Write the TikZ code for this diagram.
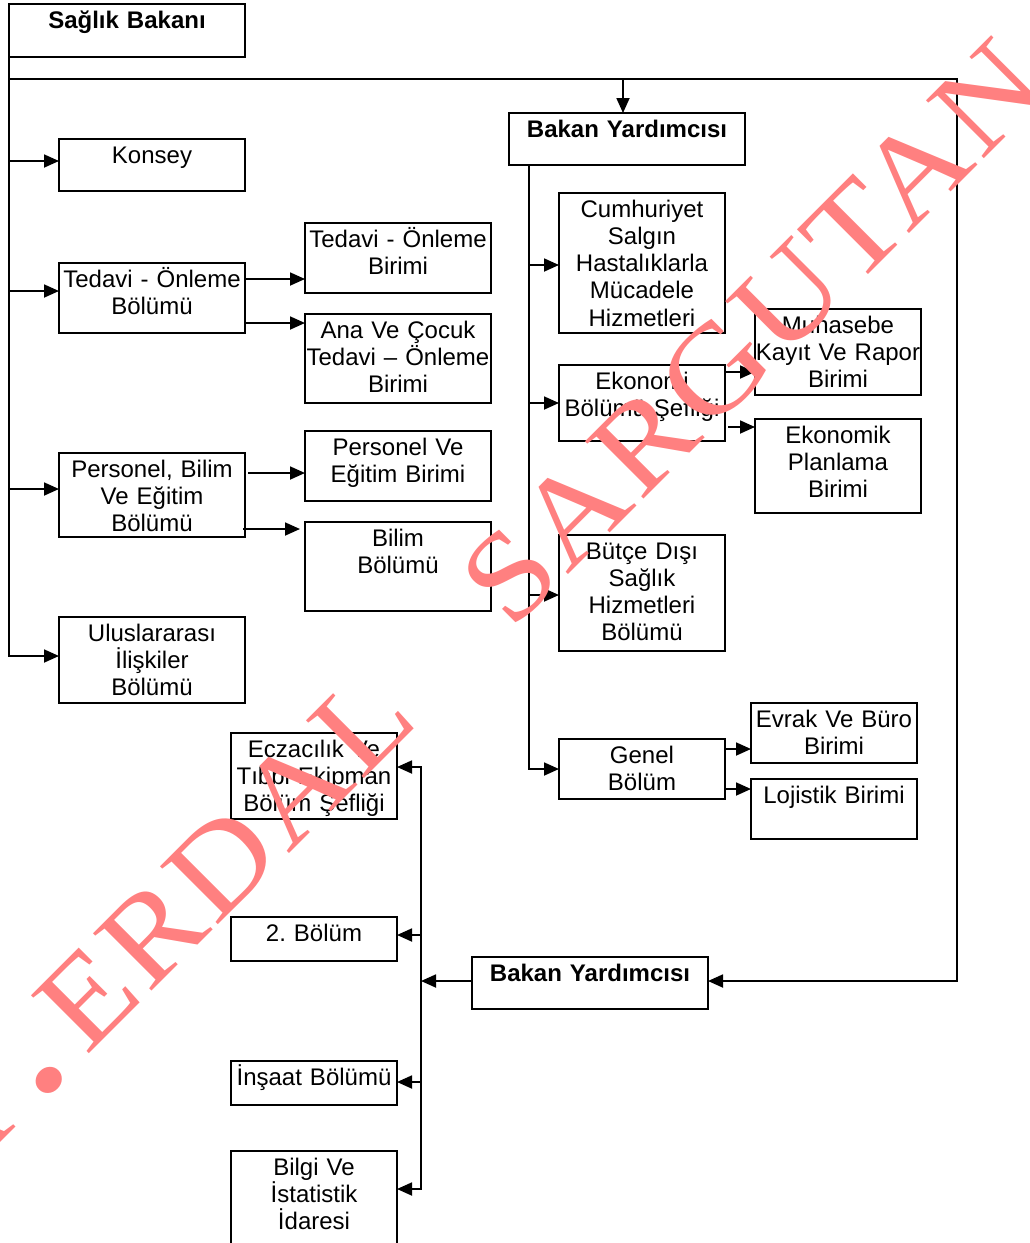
\documentclass[tikz,border=0pt]{standalone}
\usepackage{fontspec}
\setmainfont{Liberation Sans}
\newfontfamily\wmfont[LetterSpace=3, FakeStretch=1.1]{Liberation Serif}
\usetikzlibrary{arrows.meta,positioning}
\definecolor{wmark}{RGB}{255,128,128}
\newcommand{\boxfont}{\fontsize{24}{27.3}\selectfont}
\tikzset{
  unitbox/.style={draw, line width=1.8pt, inner sep=0pt, outer sep=0pt, minimum width=166pt, minimum height=#1},
  widebox/.style={unitbox=#1, minimum width=186pt},
  headbox/.style={unitbox=#1, minimum width=236pt},
  boxtext/.style={anchor=north, inner sep=4.8pt, text width=240pt, align=center, text height=19pt, font=\boxfont},
  headtext/.style={boxtext, font=\boxfont\bfseries},
  arrow/.style={-{Triangle[length=15pt,width=13pt]}, line width=1.8pt},
  watermark/.style={anchor=base west, rotate=45, inner sep=0pt, text=wmark, font=\wmfont\fontsize{125}{125}\selectfont}
}

\begin{document}
\begin{tikzpicture}[x=1pt, y=-1pt]
  \useasboundingbox (0,0) rectangle (1029,1243);

  \node[headbox=53pt, label={[headtext]north:{Sağlık Bakanı}}] (bakan) at (127,30.5) {};
  \node[widebox=52pt, label={[boxtext]north:{Konsey}}] (konsey) at (152,165) {};
  \node[widebox=70pt, label={[boxtext]north:{Tedavi - Önleme\\Bölümü}}] (tob) at (152,298) {};
  \node[widebox=70pt, label={[boxtext]north:{Tedavi - Önleme\\Birimi}}] (tobirim) at (398,258) {};
  \node[widebox=89pt, below=21pt of tobirim, label={[boxtext]north:{Ana Ve Çocuk\\Tedavi – Önleme\\Birimi}}] (anacocuk) {};
  \node[widebox=84pt, label={[boxtext]north:{Personel, Bilim\\Ve Eğitim\\Bölümü}}] (pbe) at (152,495) {};
  \node[widebox=70pt, label={[boxtext]north:{Personel Ve\\Eğitim Birimi}}] (pebirim) at (398,466) {};
  \node[widebox=89pt, below=21pt of pebirim, label={[boxtext]north:{Bilim\\Bölümü}}] (bilim) {};
  \node[widebox=86pt, label={[boxtext]north:{Uluslararası\\İlişkiler\\Bölümü}}] (ulus) at (152,660) {};

  \node[headbox=52pt, label={[headtext]north:{Bakan Yardımcısı}}] (yard1) at (627,139) {};
  \node[unitbox=140pt, label={[boxtext]north:{Cumhuriyet\\Salgın\\Hastalıklarla\\Mücadele\\Hizmetleri}}] (cumh) at (642,263) {};
  \node[unitbox=76pt, label={[boxtext]north:{Ekonomi\\Bölümü Şefliği}}] (ekon) at (642,403) {};
  \node[unitbox=86pt, label={[boxtext]north:{Muhasebe\\Kayıt Ve Rapor\\Birimi}}] (muh) at (838,352) {};
  \node[unitbox=94pt, below=24pt of muh, label={[boxtext]north:{Ekonomik\\Planlama\\Birimi}}] (ekplan) {};
  \node[unitbox=116pt, label={[boxtext]north:{Bütçe Dışı\\Sağlık\\Hizmetleri\\Bölümü}}] (butce) at (642,593) {};
  \node[unitbox=60pt, label={[boxtext]north:{Genel\\Bölüm}}] (genel) at (642,769) {};
  \node[unitbox=60pt, label={[boxtext]north:{Evrak Ve Büro\\Birimi}}] (evrak) at (834,733) {};
  \node[unitbox=60pt, below=16pt of evrak, label={[boxtext]north:{Lojistik Birimi}}] (lojistik) {};

  \node[headbox=52pt, label={[headtext]north:{Bakan Yardımcısı}}] (yard2) at (590,983) {};
  \node[unitbox=86pt, label={[boxtext]north:{Eczacılık Ve\\Tıbbi Ekipman\\Bölüm Şefliği}}] (eczaci) at (314,776) {};
  \node[unitbox=44pt, label={[boxtext]north:{2.\ Bölüm}}] (ikinci) at (314,939) {};
  \node[unitbox=44pt, label={[boxtext]north:{İnşaat Bölümü}}] (insaat) at (314,1083) {};
  \node[unitbox=96pt, label={[boxtext]north:{Bilgi Ve\\İstatistik\\İdaresi}}] (bilgi) at (314,1199) {};

  \coordinate (tl) at (9,79);
  \coordinate (tr) at (957,79);
  \coordinate (y1in) at ([xshift=-4pt]yard1.north);
  \coordinate (mtop) at ([xshift=20pt]yard1.south west);
  \coordinate (jn) at ([xshift=-51pt,yshift=2pt]yard2.west);

  \draw[arrow] (bakan.south west) |- ([yshift=4pt]konsey.west);
  \draw[arrow] (bakan.south west) |- ([yshift=7pt]tob.west);
  \draw[arrow] (bakan.south west) |- ([yshift=6pt]pbe.west);
  \draw[arrow] (bakan.south west) |- ([yshift=4pt]ulus.west);
  \draw[arrow] (tl) -- (tr) |- ([yshift=2pt]yard2.east);
  \draw[arrow] (y1in |- tl) -- (y1in);

  \draw[arrow] ([yshift=19pt]tob.east) -- ([yshift=-21pt]tobirim.west);
  \draw[arrow] ([yshift=-25pt]tob.east) -- ([yshift=35.5pt]anacocuk.west);
  \draw[arrow] ([xshift=3pt,yshift=22pt]pbe.east) -- ([yshift=-7pt]pebirim.west);
  \draw[arrow] ([xshift=-2pt,yshift=-34pt]pbe.east) -- ([xshift=-5pt,yshift=37.5pt]bilim.west);

  \draw[arrow] (mtop) |- ([yshift=-2pt]cumh.west);
  \draw[arrow] (mtop) |- (ekon.west);
  \draw[arrow] (mtop) |- ([yshift=-2pt]butce.west);
  \draw[arrow] (mtop) |- (genel.west);
  \draw[arrow] ([yshift=31pt]ekon.east) -- ([yshift=-20pt]muh.west);
  \draw[arrow] ([xshift=3pt,yshift=-24pt]ekon.east) -- ([yshift=39pt]ekplan.west);
  \draw[arrow] ([yshift=20pt]genel.east) -- ([yshift=-16pt]evrak.west);
  \draw[arrow] ([yshift=-20pt]genel.east) -- ([yshift=20pt]lojistik.west);

  \draw[arrow] ([yshift=2pt]yard2.west) -- (jn);
  \draw[arrow] (jn) |- ([yshift=9pt]eczaci.east);
  \draw[arrow] (jn) |- ([yshift=4pt]ikinci.east);
  \draw[arrow] (jn) |- ([yshift=1pt]insaat.east);
  \draw[arrow] (jn) |- ([yshift=10pt]bilgi.east);

  \node[watermark] (wm) at (-54.1,1197.1) {A\hspace{27pt}{\fontsize{210}{210}\selectfont.}\hspace{14pt}ERDAL\hspace{128pt}SARGUTAN};
\end{tikzpicture}
\end{document}
